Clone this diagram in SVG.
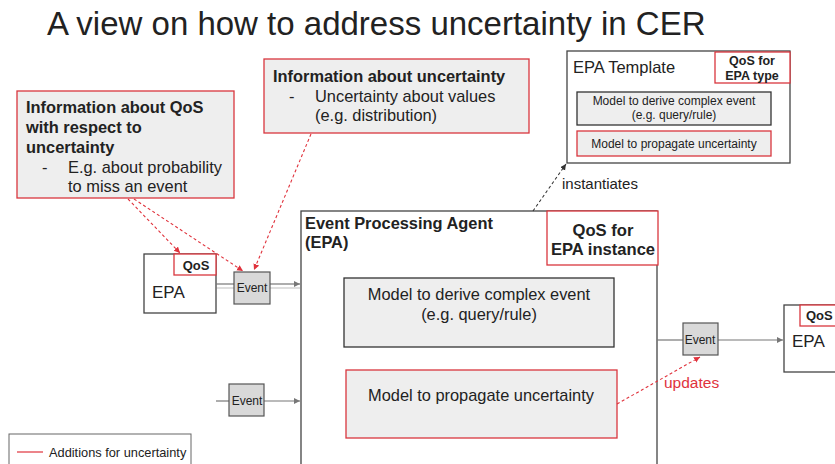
<svg xmlns="http://www.w3.org/2000/svg" width="835" height="464" viewBox="0 0 835 464">
  <style>
    text { font-family: "Liberation Sans", Arial, sans-serif; fill: #222; }
    .b { font-weight: bold; }
    .c { text-anchor: middle; }
    .red { fill: #eeeeee; stroke: #d9363e; stroke-width: 1.3; }
    .redw { fill: #ffffff; stroke: #d9363e; stroke-width: 1.3; }
    .gray { fill: #eeeeee; stroke: #333; stroke-width: 1.3; }
    .plain { fill: #ffffff; stroke: #444; stroke-width: 1.3; }
    .ev { fill: #d9d9d9; stroke: #555; stroke-width: 1.2; }
    .flow { stroke: #777; stroke-width: 1.2; fill: none; }
    .rdash { stroke: #e0323c; stroke-width: 1.1; stroke-dasharray: 3 2.5; fill: none; }
    .kdash { stroke: #333; stroke-width: 1.1; stroke-dasharray: 3 2.5; fill: none; }
  </style>
  <defs>
    <marker id="ag" markerWidth="8" markerHeight="8" refX="6" refY="3" orient="auto" markerUnits="userSpaceOnUse">
      <path d="M0,0 L6,3 L0,6 z" fill="#777"/>
    </marker>
    <marker id="ar" markerWidth="8" markerHeight="8" refX="6" refY="3" orient="auto" markerUnits="userSpaceOnUse">
      <path d="M0,0 L6,3 L0,6 z" fill="#e0323c"/>
    </marker>
    <marker id="ak" markerWidth="8" markerHeight="8" refX="6" refY="3" orient="auto" markerUnits="userSpaceOnUse">
      <path d="M0,0 L6,3 L0,6 z" fill="#333"/>
    </marker>
  </defs>

  <rect width="835" height="464" fill="#ffffff"/>

  <text x="47" y="35" font-size="33">A view on how to address uncertainty in CER</text>

  <!-- QoS information note -->
  <g id="note-qos">
    <rect class="red" x="17" y="91" width="217" height="107"/>
    <text x="26" y="113" font-size="16.4" class="b">Information about QoS</text>
    <text x="26" y="133" font-size="16.4" class="b">with respect to</text>
    <text x="26" y="153" font-size="16.4" class="b">uncertainty</text>
    <text x="42" y="173" font-size="16.4">-</text>
    <text x="68" y="173" font-size="16.4">E.g. about probability</text>
    <text x="68" y="192" font-size="16.4">to miss an event</text>
  </g>

  <!-- uncertainty information note -->
  <g id="note-uncertainty">
    <rect class="red" x="264" y="59" width="265" height="74"/>
    <text x="273" y="82" font-size="16.4" class="b">Information about uncertainty</text>
    <text x="289" y="102" font-size="16.4">-</text>
    <text x="315" y="102" font-size="16.4">Uncertainty about values</text>
    <text x="315" y="121" font-size="16.4">(e.g. distribution)</text>
  </g>

  <!-- EPA template -->
  <g id="epa-template">
    <rect class="plain" x="567" y="51" width="223" height="112"/>
    <text x="573" y="73" font-size="16.5">EPA Template</text>
    <rect class="redw" x="715" y="52" width="75" height="31"/>
    <text x="752" y="65" font-size="12.5" class="b c">QoS for</text>
    <text x="752" y="80" font-size="12.5" class="b c">EPA type</text>
    <rect class="gray" x="577" y="92" width="194" height="33"/>
    <text x="674" y="105" font-size="12" class="c">Model to derive complex event</text>
    <text x="674" y="119" font-size="12" class="c">(e.g. query/rule)</text>
    <rect class="red" x="577" y="131" width="194" height="25"/>
    <text x="674" y="148" font-size="12" class="c">Model to propagate uncertainty</text>
  </g>

  <!-- main event processing agent -->
  <g id="epa-main">
    <rect class="plain" x="301" y="211" width="356" height="260"/>
    <text x="305" y="229" font-size="16.4" class="b">Event Processing Agent</text>
    <text x="305" y="248" font-size="16.4" class="b">(EPA)</text>
    <rect class="redw" x="547" y="211" width="111" height="54"/>
    <text x="603" y="236" font-size="16.6" class="b c">QoS for</text>
    <text x="603" y="255" font-size="16.6" class="b c">EPA instance</text>
    <rect class="gray" x="344" y="278" width="270" height="69"/>
    <text x="479" y="300" font-size="16.4" class="c">Model to derive complex event</text>
    <text x="479" y="320" font-size="16.4" class="c">(e.g. query/rule)</text>
    <rect class="red" x="346" y="370" width="271" height="68"/>
    <text x="481" y="401" font-size="16.4" class="c">Model to propagate uncertainty</text>
  </g>

  <!-- upstream agent -->
  <g id="epa-left">
    <rect class="plain" x="144" y="254" width="72" height="59"/>
    <rect class="redw" x="174" y="254" width="42" height="21"/>
    <text x="196" y="270" font-size="13" class="b c">QoS</text>
    <text x="152" y="298" font-size="17">EPA</text>
  </g>

  <!-- downstream agent -->
  <g id="epa-right">
    <rect class="plain" x="784" y="305" width="60" height="67"/>
    <rect class="redw" x="800" y="305" width="44" height="21"/>
    <text x="806" y="320" font-size="13" class="b">QoS</text>
    <text x="792" y="347" font-size="17">EPA</text>
  </g>

  <g id="connectors">
    <line class="flow" x1="216" y1="284" x2="234" y2="284"/>
    <line class="flow" x1="216" y1="288" x2="234" y2="288" stroke-opacity="0.4"/>
    <line class="flow" x1="270" y1="284" x2="300" y2="284" marker-end="url(#ag)"/>
    <line class="flow" x1="270" y1="288" x2="300" y2="288" stroke-opacity="0.4"/>
    <line class="flow" x1="216" y1="401" x2="229" y2="401"/>
    <line class="flow" x1="264" y1="401" x2="300" y2="401" marker-end="url(#ag)"/>
    <line class="flow" x1="657" y1="340" x2="683" y2="340"/>
    <line class="flow" x1="718" y1="340" x2="783" y2="340" marker-end="url(#ag)"/>
    <line class="rdash" x1="128" y1="199" x2="180" y2="253" marker-end="url(#ar)"/>
    <line class="rdash" x1="134" y1="199" x2="243" y2="271" marker-end="url(#ar)"/>
    <line class="rdash" x1="311" y1="134" x2="254" y2="270" marker-end="url(#ar)"/>
    <line class="rdash" x1="617" y1="404" x2="700" y2="357" marker-end="url(#ar)"/>
    <line class="kdash" x1="533" y1="211" x2="566" y2="164" marker-end="url(#ak)"/>
    <text x="562" y="189" font-size="15">instantiates</text>
    <text x="664" y="388" font-size="15.5" style="fill:#e0323c">updates</text>
  </g>

  <!-- event tokens -->
  <g id="event-in-1">
    <rect class="ev" x="234" y="272" width="36" height="32"/>
    <text x="252" y="292" font-size="12" class="c">Event</text>
  </g>
  <g id="event-in-2">
    <rect class="ev" x="229" y="384" width="35" height="32"/>
    <text x="247" y="405" font-size="12" class="c">Event</text>
  </g>
  <g id="event-out">
    <rect class="ev" x="683" y="323" width="35" height="32"/>
    <text x="700" y="344" font-size="12" class="c">Event</text>
  </g>

  <!-- legend -->
  <g id="legend">
    <rect x="9" y="434" width="182" height="40" fill="#fff" stroke="#666" stroke-width="1"/>
    <line x1="17" y1="452" x2="43" y2="452" stroke="#e0323c" stroke-width="1.2"/>
    <text x="49" y="457" font-size="12.8">Additions for uncertainty</text>
  </g>
</svg>
